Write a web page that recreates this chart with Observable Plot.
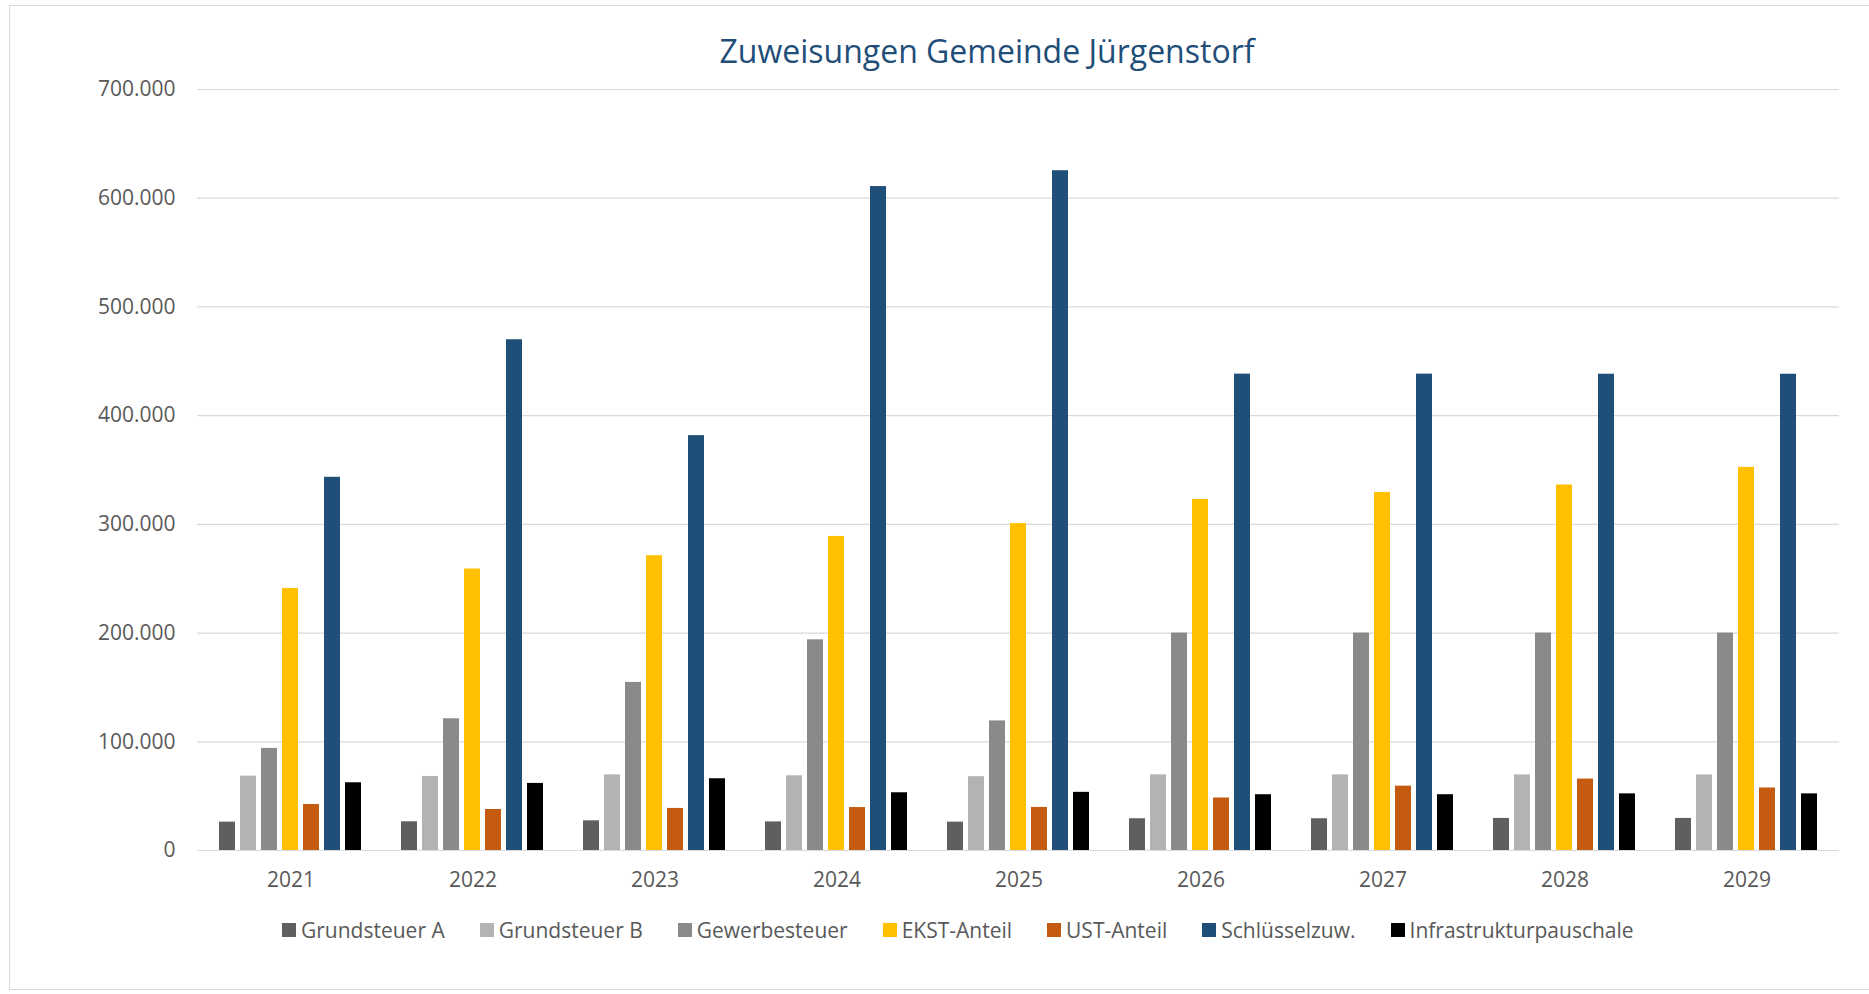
<!DOCTYPE html>
<html>
<head>
<meta charset="utf-8">
<script src="https://cdn.jsdelivr.net/npm/d3@7"></script>
<script src="https://cdn.jsdelivr.net/npm/@observablehq/plot@0.6"></script>
<style>
  html, body { margin: 0; padding: 0; background: #fff; overflow: hidden; }
  body { width: 1869px; height: 994px; position: relative; font-family: "Open Sans", sans-serif; }
  #frame { position: absolute; left: 9px; top: 5px; width: 1900px; height: 985px; border: 1px solid #d9d9d9; box-sizing: border-box; }
  #title { position: absolute; left: 0; width: 1974px; top: 29px; text-align: center; font-size: 32px; color: #1f4e79; line-height: 44px; }
  #grid, #chart { position: absolute; left: 0; top: 0; }
  #legend { position: absolute; left: 282px; top: 915px; display: flex; gap: 35px; font-size: 21px; color: #595959; line-height: 30px; }
  .item { display: flex; align-items: center; }
  .sw { width: 14px; height: 14px; margin-right: 5px; }
</style>
</head>
<body>
<div id="frame"></div>
<div id="title">Zuweisungen Gemeinde Jürgenstorf</div>
<div id="grid"></div>
<div id="chart"></div>
<div id="legend"></div>
<script>
const years = ["2021", "2022", "2023", "2024", "2025", "2026", "2027", "2028", "2029"];
const seriesNames = ["Grundsteuer A", "Grundsteuer B", "Gewerbesteuer", "EKST-Anteil", "UST-Anteil", "Schlüsselzuw.", "Infrastrukturpauschale"];
const seriesColors = ["#5f5f5f", "#b3b3b3", "#8a8a8a", "#ffc000", "#c55a11", "#1f4e79", "#000000"];
const yTicks = [0, 100000, 200000, 300000, 400000, 500000, 600000, 700000];

const grundsteuerA = [26100, 26400, 27300, 26300, 26100, 29200, 29200, 29500, 29500];
const grundsteuerB = [68400, 68100, 69600, 68700, 67900, 69600, 69600, 69500, 69500];
const gewerbesteuer = [93900, 121200, 154600, 193800, 119200, 200000, 200000, 200000, 200000];
const ekstAnteil = [241100, 258900, 271200, 288900, 300700, 322900, 329400, 336200, 352400];
const ustAnteil = [42300, 37700, 38700, 39500, 39600, 48300, 59200, 65700, 57500];
const schluesselzuw = [343300, 469800, 381600, 610700, 625300, 438200, 438200, 438100, 438100];
const infrastruktur = [62300, 61700, 66000, 53100, 53500, 51300, 51300, 52100, 52100];

const seriesValues = [grundsteuerA, grundsteuerB, gewerbesteuer, ekstAnteil, ustAnteil, schluesselzuw, infrastruktur];

const data = [];
years.forEach((yr, i) => {
  seriesNames.forEach((s, j) => {
    data.push({ year: yr, series: s, value: seriesValues[j][i] });
  });
});

const de = d3.formatLocale({ decimal: ",", thousands: ".", grouping: [3], currency: ["", "€"] });
const fmt = de.format(",");

const common = {
  width: 1869,
  height: 900,
  marginLeft: 197,
  marginRight: 30,
  marginTop: 89,
  marginBottom: 50,
  style: { fontFamily: "Open Sans, sans-serif", fontSize: "21px", color: "#595959", background: "transparent", overflow: "visible" },
  y: { domain: [0, 700000], label: null }
};

// background layer: continuous gridlines and y axis
const gridPlot = Plot.plot({
  ...common,
  x: { domain: [0, 1], axis: null },
  marks: [
    Plot.ruleY(yTicks, { stroke: "#d9d9d9", strokeWidth: 1.2 }),
    Plot.axisY({ ticks: yTicks, tickFormat: fmt, tickSize: 0, tickPadding: 0, dx: -22, label: null, fill: "#595959", fontSize: 21 })
  ]
});
document.getElementById("grid").appendChild(gridPlot);

// foreground layer: grouped bars and year labels
const plot = Plot.plot({
  ...common,
  fx: { domain: years, paddingInner: 0.204, paddingOuter: 0.102, label: null },
  x: { domain: seriesNames, paddingInner: 0.215, paddingOuter: 0, axis: null },
  color: { domain: seriesNames, range: seriesColors },
  marks: [
    Plot.axisFx({ anchor: "bottom", tickSize: 0, tickPadding: 0, dy: 22, label: null, fill: "#595959", fontSize: 21 }),
    Plot.axisY({ ticks: [], label: null }),
    Plot.barY(data, { fx: "year", x: "series", y: "value", fill: "series" })
  ]
});
document.getElementById("chart").appendChild(plot);

const legend = document.getElementById("legend");
seriesNames.forEach((s, j) => {
  const item = document.createElement("div");
  item.className = "item";
  const sw = document.createElement("div");
  sw.className = "sw";
  sw.style.background = seriesColors[j];
  const t = document.createElement("span");
  t.textContent = s;
  item.appendChild(sw);
  item.appendChild(t);
  legend.appendChild(item);
});
</script>
</body>
</html>
